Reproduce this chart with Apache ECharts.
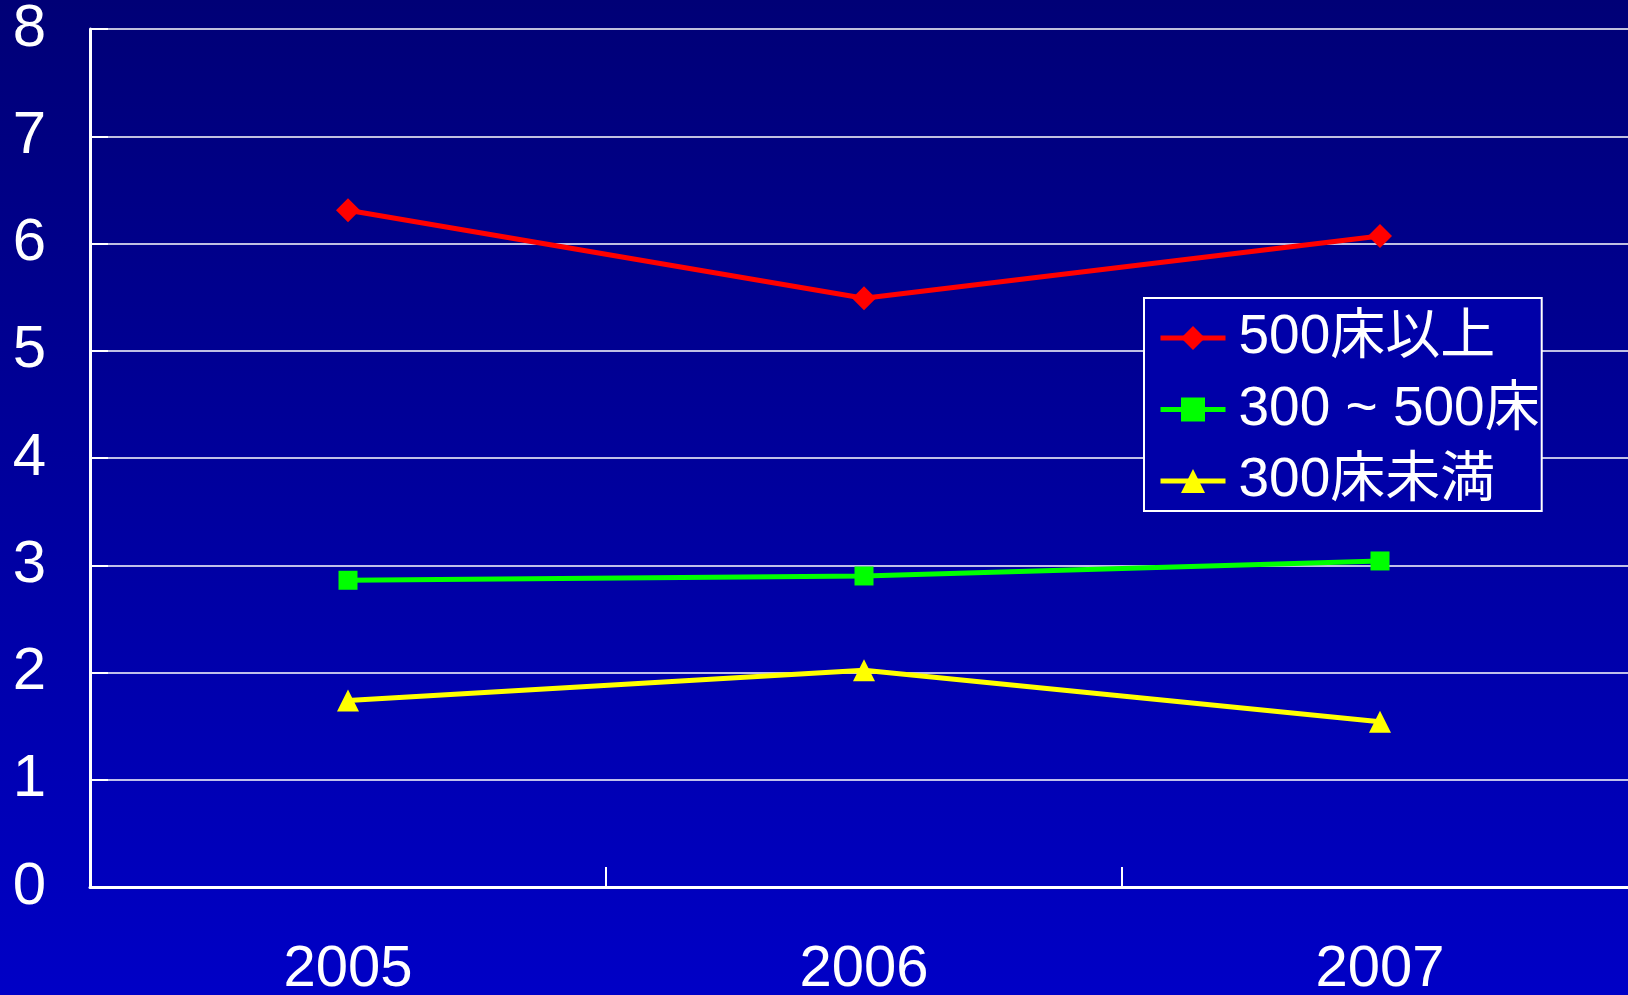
<!DOCTYPE html>
<html><head><meta charset="utf-8">
<script src="https://cdn.jsdelivr.net/npm/echarts@6/dist/echarts.min.js"></script>
<style>html,body{margin:0;padding:0;background:#0000a0;}#c{width:1628px;height:995px;}</style>
</head><body><div id="c"></div>
<script>
var categories = ['2005', '2006', '2007'];
var seriesNames = ['500床以上', '300 ~ 500床', '300床未満'];
var over500 = [6.31, 5.49, 6.07];
var mid300to500 = [2.86, 2.90, 3.04];
var under300 = [1.74, 2.02, 1.54];
var yTicks = [0, 1, 2, 3, 4, 5, 6, 7, 8];

var chart = echarts.init(document.getElementById('c'));
var FONT = '"Liberation Sans", Arial, "Noto Sans CJK JP", sans-serif';
function mk(name, data, color, symbol, size) {
  return {
    name: name, type: 'line', data: data, symbol: symbol, symbolSize: size,
    lineStyle: {color: color, width: 5}, itemStyle: {color: color},
    emphasis: {disabled: true}, animation: false, z: 5
  };
}
chart.setOption({
  animation: false,
  backgroundColor: {type: 'linear', x: 0, y: 0, x2: 0, y2: 1,
    colorStops: [{offset: 0, color: '#000076'}, {offset: 1, color: '#0000c6'}]},
  textStyle: {fontFamily: FONT},
  grid: {left: 90, top: 29, width: 1548, height: 858, containLabel: false, outerBoundsMode: 'none'},
  legend: {
    orient: 'vertical', left: 1144, top: 298,
    data: seriesNames,
    borderColor: '#ffffff', borderWidth: 2, backgroundColor: '#0000a8',
    padding: [10, 2, 0, 14], itemGap: 11.5, itemWidth: 65, itemHeight: 30,
    lineStyle: {width: 5},
    textStyle: {color: '#ffffff', fontSize: 55, fontFamily: FONT, lineHeight: 60, padding: [0, 0, 0, 8]},
    selectedMode: false
  },
  xAxis: {
    type: 'category', data: categories, boundaryGap: true,
    axisLine: {lineStyle: {color: '#ffffff', width: 3}},
    axisTick: {show: true, interval: 0, inside: true, length: 20, lineStyle: {color: '#ffffff', width: 2}},
    axisLabel: {color: '#ffffff', fontSize: 58, fontFamily: FONT, margin: 54},
    splitLine: {show: false}
  },
  yAxis: {
    type: 'value', min: yTicks[0], max: yTicks[yTicks.length - 1], interval: 1,
    axisLine: {show: true, lineStyle: {color: '#ffffff', width: 3}},
    axisTick: {show: true, inside: true, length: 18, lineStyle: {color: '#ffffff', width: 2}},
    axisLabel: {color: '#ffffff', fontSize: 60, fontFamily: FONT, margin: 44},
    splitLine: {show: true, lineStyle: {color: '#ffffff', width: 1.5}}
  },
  series: [
    mk(seriesNames[0], over500, '#ff0000', 'diamond', 24),
    mk(seriesNames[1], mid300to500, '#00ff00', 'rect', 19),
    mk(seriesNames[2], under300, '#ffff00', 'triangle', 22)
  ]
});
</script></body></html>
